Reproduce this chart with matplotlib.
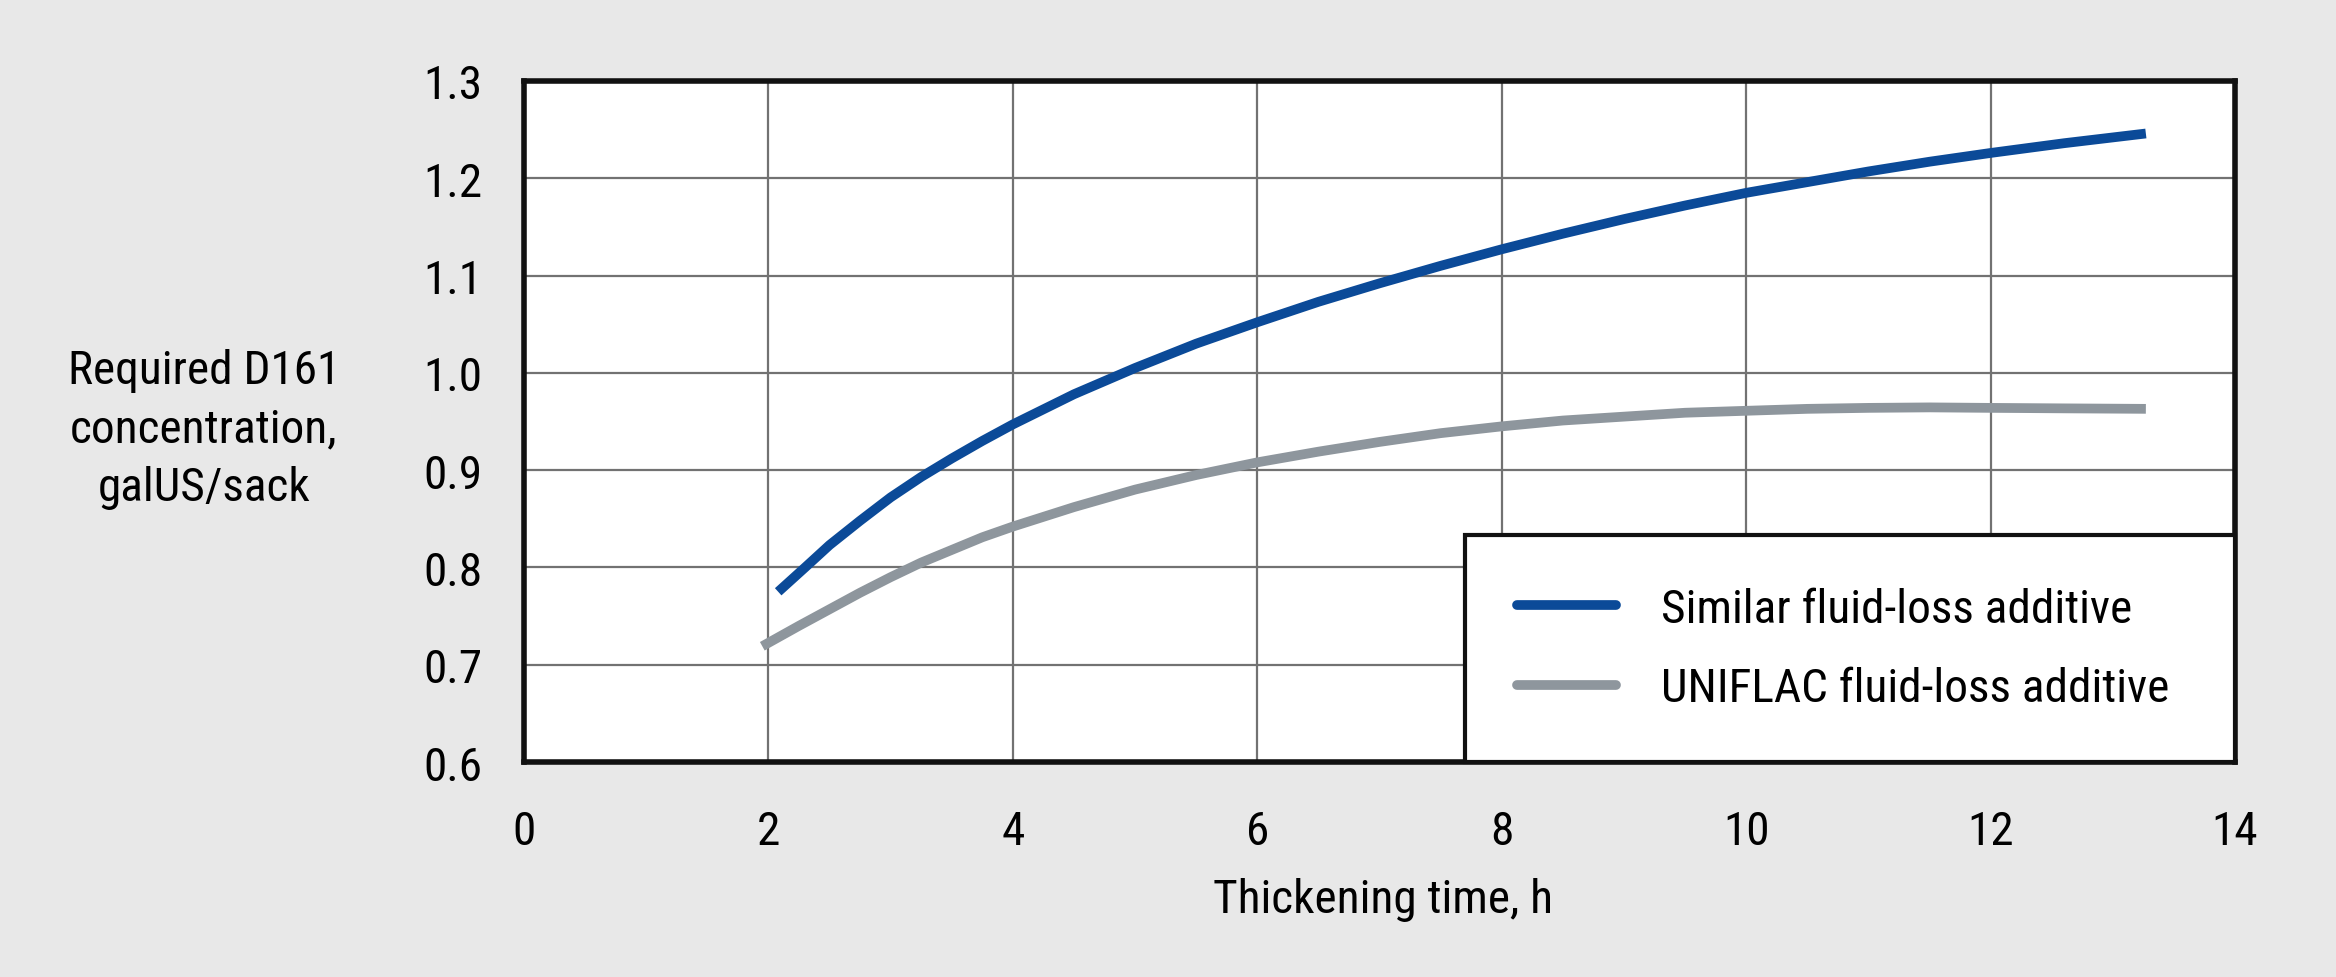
import matplotlib.pyplot as plt

plt.rcParams['font.family'] = ['Roboto Condensed', 'Liberation Sans Narrow', 'DejaVu Sans']
plt.rcParams['font.stretch'] = 'condensed'

# Werte
similar_x = [2.08, 2.3, 2.5, 2.75, 3, 3.25, 3.5, 3.75, 4, 4.5, 5, 5.5, 6, 6.5, 7,
             7.5, 8, 8.5, 9, 9.5, 10, 10.5, 11, 11.5, 12, 12.6, 13.27]
similar_y = [0.775, 0.800, 0.823, 0.848, 0.872, 0.893, 0.912, 0.930, 0.947, 0.978,
             1.005, 1.030, 1.052, 1.073, 1.092, 1.110, 1.127, 1.143, 1.158, 1.172,
             1.185, 1.196, 1.207, 1.217, 1.226, 1.236, 1.246]
uniflac_x = [1.95, 2.25, 2.5, 2.75, 3, 3.25, 3.5, 3.75, 4, 4.5, 5, 5.5, 6, 6.5, 7,
             7.5, 8, 8.5, 9, 9.5, 10, 10.5, 11, 11.5, 12, 12.6, 13.27]
uniflac_y = [0.719, 0.740, 0.757, 0.774, 0.790, 0.805, 0.818, 0.831, 0.842, 0.862,
             0.880, 0.895, 0.908, 0.919, 0.929, 0.938, 0.945, 0.951, 0.955, 0.959,
             0.961, 0.963, 0.964, 0.9645, 0.964, 0.9635, 0.963]
labels = ['Similar fluid-loss additive', 'UNIFLAC fluid-loss additive']
x_ticks = [0, 2, 4, 6, 8, 10, 12, 14]
y_ticks = [0.6, 0.7, 0.8, 0.9, 1.0, 1.1, 1.2, 1.3]

bg = '#e8e8e8'
fig = plt.figure(figsize=(23.36, 9.78), dpi=100, facecolor=bg)
ax = fig.add_axes([0.2243, 0.2198, 0.7325, 0.6964])
ax.set_facecolor('white')

ax.plot(similar_x, similar_y, color='#0b4a98', lw=7, solid_capstyle='butt', label=labels[0], zorder=3)
ax.plot(uniflac_x, uniflac_y, color='#8e969d', lw=7, solid_capstyle='butt', label=labels[1], zorder=3)

ax.set_xlim(0, 14)
ax.set_ylim(0.6, 1.3)
ax.set_xticks(x_ticks)
ax.set_yticks(y_ticks)
ax.set_xticklabels([str(t) for t in x_ticks])
ax.set_yticklabels(['%.1f' % t for t in y_ticks])
ax.tick_params(length=0, labelsize=34)
ax.tick_params(axis='y', pad=30)
ax.tick_params(axis='x', pad=34)
ax.grid(True, color='#727272', lw=1.6)
ax.set_axisbelow(True)
for s in ax.spines.values():
    s.set_linewidth(4)
    s.set_color('#111111')

leg = ax.legend(loc='lower left', bbox_to_anchor=(0.55, 0.0, 0.45, 0.333), mode='expand',
                borderaxespad=0, fontsize=34, frameon=True, fancybox=False, framealpha=1,
                borderpad=1.1, labelspacing=0.75, handlelength=2.1, handletextpad=0.95)
leg.get_frame().set_edgecolor('#111111')
leg.get_frame().set_linewidth(3)
for h in leg.get_lines():
    h.set_solid_capstyle('round')
leg.set_zorder(5)

fig.text(0.0873, 0.561, 'Required D161\nconcentration,\ngalUS/sack', ha='center', va='center',
         fontsize=34, multialignment='center', linespacing=1.42)
fig.text(0.592, 0.08, 'Thickening time, h', ha='center', va='center', fontsize=34)

fig.savefig('out.png', dpi=100, facecolor=bg)
